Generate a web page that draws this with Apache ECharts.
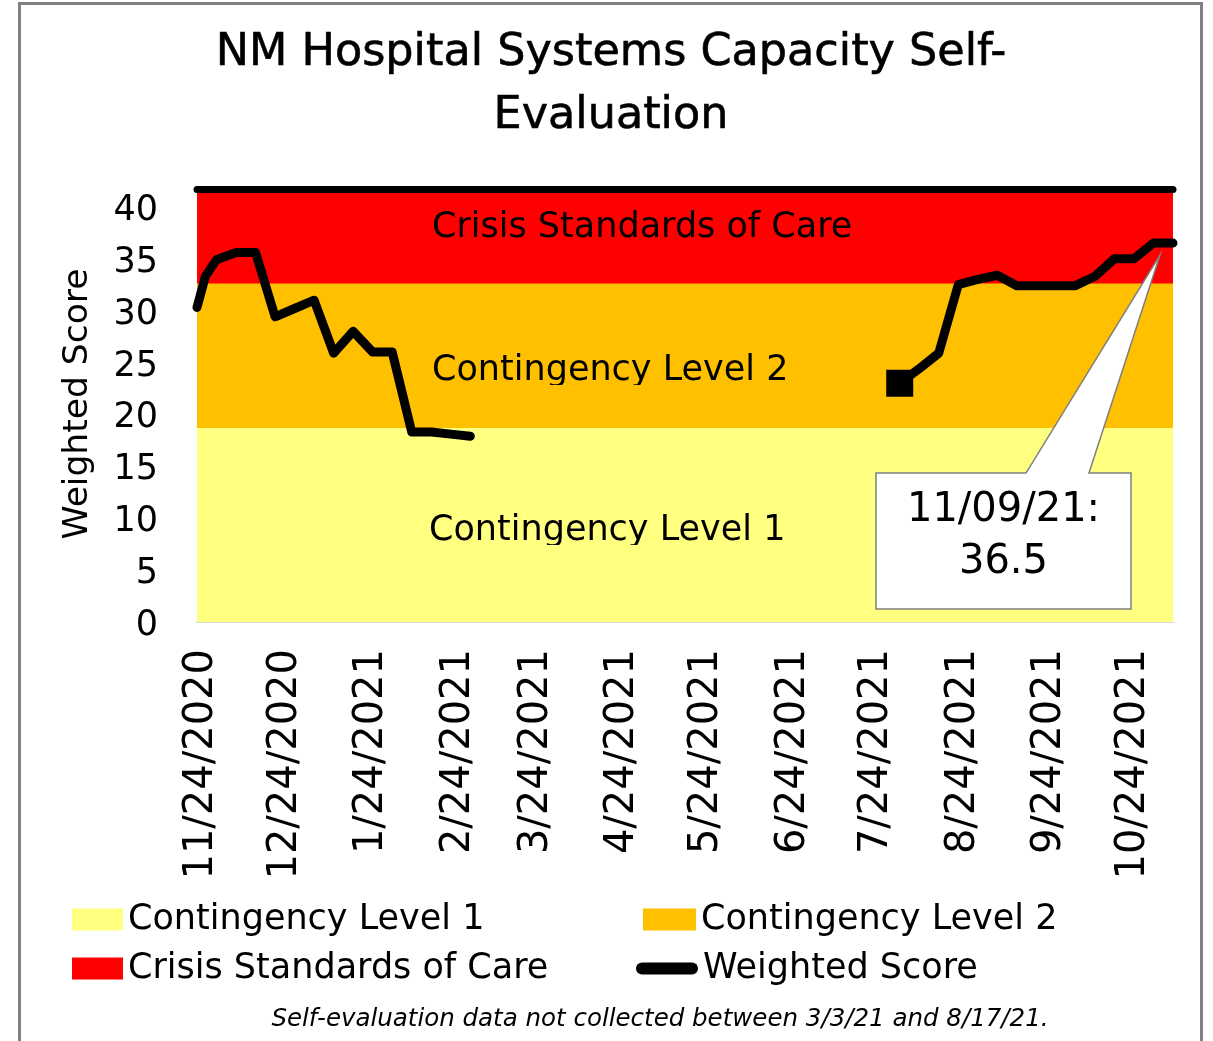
<!DOCTYPE html>
<html><head><meta charset="utf-8">
<script src="https://cdn.jsdelivr.net/npm/echarts@6/dist/echarts.min.js"></script>
<style>html,body{margin:0;padding:0;background:#fff}#c{width:1213px;height:1041px}</style>
</head><body><div id="c"></div>
<script>
// ---- data ----
const scoreDates = ['2020-11-24','2020-11-27','2020-12-01','2020-12-08','2020-12-15','2020-12-22','2020-12-29',
  '2021-01-05','2021-01-12','2021-01-19','2021-01-26','2021-02-02','2021-02-09','2021-02-16','2021-02-23','2021-03-02',
  '2021-03-03',
  '2021-08-03','2021-08-10','2021-08-17','2021-08-24','2021-08-31','2021-09-07','2021-09-14','2021-09-21','2021-09-28',
  '2021-10-05','2021-10-12','2021-10-19','2021-10-26','2021-11-02','2021-11-09'];
const scoreValues = [30.3, 33.3, 34.9, 35.6, 35.6, 29.4, 30.2,
  31.0, 25.9, 28.0, 26.0, 26.0, 18.3, 18.3, 18.1, 17.9,
  null,
  23.0, 24.4, 25.9, 32.5, 33.0, 33.4, 32.4, 32.4, 32.4,
  32.4, 33.3, 35.0, 35.0, 36.5, 36.5];
const markerDate = '2021-08-03';
const bandNames = ['Contingency Level 1', 'Contingency Level 2', 'Crisis Standards of Care'];
const bandTops = [18.7, 32.6, 41.7];
const bandColors = ['#FFFF80', '#FFC000', '#FF0000'];
const axisStart = '2020-11-24';
const axisEnd = '2021-11-09';
const tickDates = ['2020-11-24','2020-12-24','2021-01-24','2021-02-24','2021-03-24','2021-04-24',
  '2021-05-24','2021-06-24','2021-07-24','2021-08-24','2021-09-24','2021-10-24'];
const yMin = 0, yMax = 42, yInterval = 5;
const titleText = 'NM Hospital Systems Capacity Self-\nEvaluation';
const footnote = 'Self-evaluation data not collected between 3/3/21 and 8/17/21.';
const seriesName = 'Weighted Score';

function ts(s) { const p = s.split('-').map(Number); return new Date(p[0], p[1] - 1, p[2]).getTime(); }
const FONT = 'DejaVu Sans';

const chart = echarts.init(document.getElementById('c'), null, { renderer: 'canvas' });

// bands drawn top-most first, each filled down to 0, so lower bands paint over upper ones
const bandSeries = [2, 1, 0].map((i, k) => {
  const s = {
    type: 'line', name: bandNames[i], silent: true, z: 1 + k * 0.1,
    symbol: 'none', lineStyle: { width: 0 },
    itemStyle: { color: bandColors[i] },
    areaStyle: { color: bandColors[i], opacity: 1, origin: 'start' },
    data: [[ts(axisStart), bandTops[i]], [ts(axisEnd), bandTops[i]]]
  };
  if (i === bandTops.length - 1) {
    s.markLine = {
      silent: true, symbol: ['none', 'none'], label: { show: false },
      lineStyle: { color: '#000', width: 7, type: 'solid', cap: 'round' },
      data: [{ yAxis: bandTops[i] }]
    };
  }
  return s;
});

const scoreData = scoreDates.map((d, i) => [ts(d), scoreValues[i] == null ? '-' : scoreValues[i]]);
const mk = scoreDates.indexOf(markerDate);

chart.setOption({
  animation: false,
  backgroundColor: '#fff',
  title: {
    text: titleText, left: 611, top: 22, textAlign: 'center', padding: 0,
    textStyle: { fontFamily: FONT, fontSize: 44.5, fontWeight: 'normal', color: '#000', lineHeight: 63,
      textBorderColor: '#000', textBorderWidth: 0.6 }
  },
  grid: { left: 197, right: 40, top: 186, bottom: 419, containLabel: false },
  xAxis: {
    type: 'value', min: ts(axisStart), max: ts(axisEnd), scale: true,
    axisLine: { show: true, lineStyle: { color: '#d9d9d9', width: 2 } },
    axisTick: { show: false }, splitLine: { show: false },
    axisLabel: {
      customValues: tickDates.map(ts), rotate: 90, margin: 27,
      color: '#000', hideOverlap: false,
      formatter: v => { const d = new Date(v); return '{t|' + (d.getMonth() + 1) + '/' + d.getDate() + '/' + d.getFullYear() + '}'; },
      rich: { t: { fontFamily: FONT, fontSize: 40, color: '#000', padding: [10, 0, 0, 0] } }
    }
  },
  yAxis: {
    type: 'value', min: yMin, max: yMax, interval: yInterval,
    axisLine: { show: false }, axisTick: { show: false }, splitLine: { show: false },
    axisLabel: {
      color: '#000', margin: 39, showMaxLabel: false,
      formatter: '{t|{value}}',
      rich: { t: { fontFamily: FONT, fontSize: 35, color: '#000', padding: [8, 0, 0, 0] } }
    },
    name: 'Weighted Score', nameLocation: 'middle', nameGap: 101,
    nameTextStyle: { fontFamily: FONT, fontSize: 34.5, color: '#000' }
  },
  legend: [
    {
      left: 72, top: 902, orient: 'vertical', padding: 0, itemWidth: 51, itemHeight: 22, itemGap: 14,
      selectedMode: false, textStyle: { fontFamily: FONT, fontSize: 35, color: '#000' },
      data: [
        { name: bandNames[0], icon: 'rect', itemStyle: { color: bandColors[0], borderWidth: 0 } },
        { name: bandNames[2], icon: 'rect', itemStyle: { color: bandColors[2], borderWidth: 0 } }
      ]
    },
    {
      left: 643, top: 902, orient: 'vertical', padding: 0, itemWidth: 53, itemHeight: 22,
      selectedMode: false, textStyle: { fontFamily: FONT, fontSize: 35, color: '#000' },
      data: [{ name: bandNames[1], icon: 'rect', itemStyle: { color: bandColors[1], borderWidth: 0 } }]
    },
    {
      left: 636, top: 951, orient: 'vertical', padding: 0, itemWidth: 62, itemHeight: 12,
      selectedMode: false, textStyle: { fontFamily: FONT, fontSize: 35, color: '#000' },
      data: [{ name: seriesName, icon: 'path://M6,0L56,0A6,6 0 0 1 56,12L6,12A6,6 0 0 1 6,0Z', itemStyle: { color: '#000', borderWidth: 0 } }]
    }
  ],
  series: bandSeries.concat([
    {
      type: 'line', name: seriesName, z: 5, clip: false, symbol: 'none',
      connectNulls: false,
      lineStyle: { color: '#000', width: 9, join: 'round', cap: 'round' },
      itemStyle: { color: '#000' },
      data: scoreData
    },
    {
      type: 'scatter', z: 6, symbol: 'rect', symbolSize: 27, silent: true,
      itemStyle: { color: '#000', opacity: 1 },
      data: [[ts(scoreDates[mk]), scoreValues[mk]]]
    }
  ])
});

// ---- annotations positioned from the scales ----
const last = scoreDates.length - 1;
const P = chart.convertToPixel({ gridIndex: 0 }, [ts(scoreDates[last]), scoreValues[last]]);
const px = P[0], py = P[1];
const L = px - 297, R = px - 42, T = py + 230, B = py + 366;
const d = scoreDates[last].split('-');
const calloutText = d[1] + '/' + d[2] + '/' + d[0].slice(2) + ':\n' + scoreValues[last];

// band labels sit in text boxes that clip their descenders (as in the source slide)
const bandLabelPos = [[429, 531], [432, 371], [432, 228]];
const bandLabelClip = [true, true, false];
const bandLabelGraphics = [];
bandNames.forEach((name, i) => {
  const [x, y] = bandLabelPos[i];
  bandLabelGraphics.push({ type: 'text', z: 100, silent: true, style: { text: name, x: x, y: y, fill: '#000',
    fontFamily: FONT, fontSize: 35, align: 'left', verticalAlign: 'middle' } });
  if (bandLabelClip[i]) {
    bandLabelGraphics.push({ type: 'rect', z: 101, silent: true,
      shape: { x: x - 2, y: y + 14, width: 370, height: 10 }, style: { fill: bandColors[i] } });
  }
});

chart.setOption({
  graphic: [
    { type: 'rect', z: 200, silent: true, shape: { x: 19.5, y: 3.5, width: 1182, height: 1100 },
      style: { fill: 'none', stroke: '#7f7f7f', lineWidth: 3 } }
  ].concat(bandLabelGraphics).concat([
    { type: 'polygon', z: 100, silent: true,
      shape: { points: [[L, T], [px - 147, T], [px - 13, py + 12], [px - 84, T], [R, T], [R, B], [L, B]] },
      style: { fill: '#fff', stroke: '#7f7f7f', lineWidth: 1.5 } },
    { type: 'text', z: 101, silent: true, style: { text: calloutText, x: (L + R) / 2, y: py + 294, fill: '#000',
      fontFamily: FONT, fontSize: 40, lineHeight: 52, align: 'center', verticalAlign: 'middle' } },
    { type: 'text', z: 100, silent: true, style: { text: footnote, x: 660, y: 1020, fill: '#000',
      fontFamily: FONT, fontSize: 24.5, fontStyle: 'italic', align: 'center', verticalAlign: 'middle' } }
  ])
});
</script></body></html>
